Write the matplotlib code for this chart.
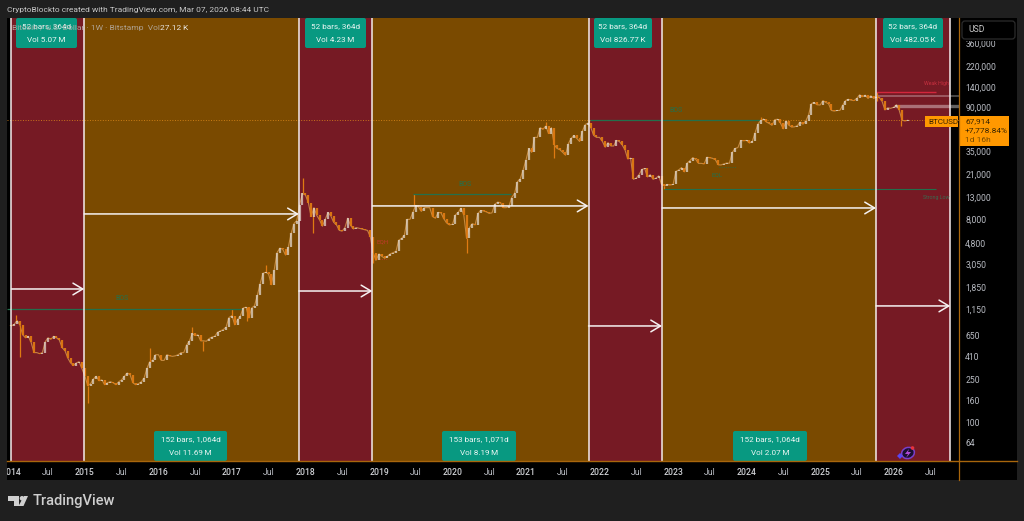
import matplotlib
matplotlib.use('Agg')
import matplotlib.pyplot as plt
from matplotlib.patches import Rectangle, FancyBboxPatch, Polygon, Circle, Ellipse
import numpy as np

plt.rcParams['font.family'] = ['Roboto', 'DejaVu Sans']

# Biweekly closes, one list per year
close_2014 = [800, 830, 900, 820, 660, 620, 640, 560, 450, 450, 440, 450, 570, 620, 600, 640, 620, 590, 500, 470, 400, 360, 340, 360, 370, 320]
close_2015 = [270, 220, 230, 255, 270, 245, 250, 225, 235, 240, 235, 225, 240, 250, 270, 290, 280, 235, 225, 230, 240, 260, 320, 370, 380, 430]
close_2016 = [430, 380, 380, 430, 420, 415, 420, 430, 450, 450, 530, 580, 680, 650, 660, 580, 580, 575, 610, 630, 640, 700, 720, 740, 780, 960]
close_2017 = [1000, 820, 920, 1000, 1180, 1200, 950, 1180, 1240, 1550, 2000, 2500, 2550, 2450, 1950, 2700, 3900, 4300, 4200, 3700, 4400, 5900, 7300, 7800, 10900, 14000]
close_2018 = [13500, 11500, 8500, 10300, 8700, 7900, 6900, 8000, 9300, 8600, 7500, 7100, 6300, 6200, 6700, 8200, 7000, 6500, 6700, 6600, 6500, 6400, 6300, 5500, 3900, 3300]
close_2019 = [3800, 3600, 3450, 3600, 3800, 3900, 4000, 5100, 5300, 5700, 8000, 8000, 9300, 10800, 10500, 9500, 10300, 10300, 10300, 8500, 8200, 9300, 9200, 8100, 7400, 7100]
close_2020 = [7200, 8800, 9300, 10200, 8800, 5300, 6700, 7300, 7100, 9100, 9700, 9600, 9400, 9100, 9200, 11100, 11600, 11500, 10300, 10300, 10600, 12800, 14000, 18000, 19200, 23000]
close_2021 = [29000, 37000, 34000, 47000, 47000, 58000, 56000, 60000, 51000, 58000, 40000, 37000, 36000, 34000, 32000, 41000, 46000, 49000, 46000, 43000, 54000, 62000, 64000, 58000, 49000, 47000]
close_2022 = [47000, 43000, 38000, 42000, 39000, 39000, 44000, 43000, 40000, 36000, 29500, 30000, 19000, 19500, 21000, 23500, 24000, 20000, 21000, 19000, 19500, 20500, 17000, 16500, 17000, 16800]
close_2023 = [17000, 22500, 23300, 24500, 22300, 27000, 28500, 30400, 29300, 26800, 26800, 26500, 30600, 30300, 29900, 29000, 26000, 25900, 26500, 27000, 26900, 34000, 37000, 37700, 44000, 43700]
close_2024 = [44000, 41600, 43000, 52000, 62500, 68000, 69900, 65500, 63500, 61000, 69000, 69500, 64000, 56500, 67000, 61000, 58700, 59000, 60500, 65500, 62500, 67000, 76500, 97500, 99800, 95000]
close_2025 = [94500, 104000, 100000, 97000, 84000, 83000, 84000, 84000, 94000, 104000, 107000, 105000, 104000, 109000, 118000, 113000, 117000, 109000, 115500, 109000, 112000, 111000, 102000, 85000, 89000, 88000]
close_2026 = [90000, 95000, 84000, 68000, 67000, 67914]

# Long wicks
high_years = [2014.06, 2015.88, 2016.46, 2017.0, 2017.46, 2017.96, 2019.48, 2021.27, 2021.85, 2024.2, 2025.77]
high_values = [1014, 502, 780, 1150, 3000, 19666, 13880, 64900, 69000, 73700, 126000]
low_years = [2014.12, 2015.04, 2016.6, 2017.2, 2018.1, 2018.92, 2020.2, 2021.38, 2022.87, 2025.77, 2026.1]
low_values = [410, 152, 470, 890, 5900, 3120, 3850, 30000, 15500, 102000, 59900]

# Time zones and arrows
zone_edges = [2014.0, 2014.99, 2017.91, 2018.91, 2021.85, 2022.85, 2025.76, 2026.77]
zone_colors = ['#761a24', '#7a4a00', '#761a24', '#7a4a00', '#761a24', '#7a4a00', '#761a24']
arrow_prices = [1778, 8990, 1702, 10690, 800, 10230, 1233]

year_labels = ['2014', 'Jul', '2015', 'Jul', '2016', 'Jul', '2017', 'Jul', '2018', 'Jul', '2019', 'Jul', '2020', 'Jul',
               '2021', 'Jul', '2022', 'Jul', '2023', 'Jul', '2024', 'Jul', '2025', 'Jul', '2026', 'Jul']
price_ticks = [360000, 220000, 140000, 90000, 35000, 21000, 13000, 8000, 4800, 3050, 1850, 1150, 650, 410, 250, 160, 100, 64]
last_price = 67914

bg = '#1f1f1f'
tick_col = '#b8bbc2'
fig = plt.figure(figsize=(10.24, 5.21), dpi=100, facecolor=bg)


def pixel_axes(z):
    a = fig.add_axes([0, 0, 1, 1], zorder=z)
    a.set_xlim(0, 1024)
    a.set_ylim(521, 0)
    a.axis('off')
    a.patch.set_visible(False)
    return a


back = pixel_axes(0)
back.add_patch(Rectangle((7, 18), 1010, 462, color='black', lw=0))

# Main chart, x in decimal years, y log price
ax = fig.add_axes([7 / 1024, 1 - 461 / 521, (959 - 7) / 1024, (461 - 18) / 521], zorder=1)
ax.set_facecolor('black')
ax.set_xlim(2013.94, 2026.889)
ax.set_yscale('log')
ax.set_ylim(43.3, 619000)
for s in ax.spines.values():
    s.set_visible(False)

for i in range(len(zone_colors)):
    ax.axvspan(zone_edges[i], zone_edges[i + 1], color=zone_colors[i], lw=0, zorder=1)

# Candles
all_years = []
all_close = []
yearly = [close_2014, close_2015, close_2016, close_2017, close_2018, close_2019, close_2020,
          close_2021, close_2022, close_2023, close_2024, close_2025, close_2026]
for n, vals in enumerate(yearly):
    for j, v in enumerate(vals):
        all_years.append(2014 + n + j * 14 / 365.25)
        all_close.append(v)
all_years = np.array(all_years)
all_close = np.array(all_close)
all_open = np.r_[all_close[0] * 1.02, all_close[:-1]]
up = all_close >= all_open
up_col = '#e6dcd2'
down_col = '#df7a12'

ax.axhline(last_price, color='#e08a1a', lw=0.7, ls=':', alpha=0.8, zorder=2)

ax.plot(all_years, all_close, color='#d89a50', lw=0.8, alpha=0.8, zorder=3)
ax.vlines(all_years[~up], all_open[~up], all_close[~up], color=down_col, lw=1.6, alpha=0.95, zorder=4)
ax.vlines(all_years[up], all_open[up], all_close[up], color=up_col, lw=1.6, alpha=0.72, zorder=4)


def wick_base(x):
    return all_close[np.argmin(np.abs(all_years - x))]


for x, h in zip(high_years, high_values):
    ax.vlines(x, wick_base(x), h, color=down_col, lw=0.9, zorder=3)
for x, l in zip(low_years, low_values):
    ax.vlines(x, l, wick_base(x), color=down_col, lw=0.9, zorder=3)

# Structure lines
green = '#23704c'
ax.hlines(1153, 2013.94, 2017.12, color=green, lw=0.9, zorder=3)
ax.hlines(13800, 2019.46, 2020.80, color=green, lw=0.9, zorder=3)
ax.hlines(68900, 2021.87, 2024.18, color=green, lw=0.9, zorder=3)
ax.hlines(15400, 2022.87, 2026.58, color=green, lw=0.8, zorder=3)
ax.hlines(24800, 2023.62, 2023.85, color=green, lw=0.6, ls=':', zorder=3)
ax.hlines(125300, 2025.76, 2026.58, color='#d3263c', lw=1.0, zorder=3)
ax.hlines(3400, 2018.97, 2019.11, color='#c0392b', lw=0.6, ls=':', zorder=3)
ax.hlines(115000, 2025.79, 2026.889, color='white', lw=1.4, alpha=0.28, zorder=3)
ax.hlines(92600, 2026.02, 2026.889, color='white', lw=2.4, alpha=0.38, zorder=3)

# Zone edges and arrows
for e in zone_edges:
    ax.axvline(e, color='#f4ecec', lw=1.1, zorder=5)
for i, p in enumerate(arrow_prices):
    ax.annotate('', xy=(zone_edges[i + 1], p), xytext=(zone_edges[i], p), zorder=5,
                arrowprops=dict(arrowstyle='->,head_length=0.7,head_width=0.42', color='#f6f2f2', lw=1.1,
                                shrinkA=0, shrinkB=0))

# Axis ticks
tick_pos = [2014 + k * 0.5 for k in range(len(year_labels))]
ax.set_xticks(tick_pos)
ax.set_xticklabels(year_labels, fontsize=6.2, color=tick_col)
for t in ax.get_xticklabels():
    if t.get_text() != 'Jul':
        t.set_color('#d0d2d6')
        t.set_fontweight('medium')
ax.tick_params(axis='x', length=0, pad=5)
ax.yaxis.tick_right()
ax.set_yticks(price_ticks)
ax.set_yticklabels(['{:,}'.format(v) for v in price_ticks], fontsize=6.2, color=tick_col)
ax.minorticks_off()
ax.tick_params(axis='y', length=0, pad=4.5)

# Overlay in pixels
ov = pixel_axes(5)
ov.add_patch(Rectangle((0, 0), 7, 521, color=bg, lw=0))
ov.plot([7, 1017], [461, 461], color='#a8660c', lw=1.0)
ov.plot([959, 959], [18, 480], color='#a8660c', lw=0.9)

# Top header
ov.text(7, 10, 'CryptoBlockto created with TradingView.com, Mar 07, 2026 08:44 UTC', fontsize=6.0,
        color='#c9c9c9', va='center')


def stat_box(x0, x1, y0, y1, line1, line2):
    ov.add_patch(FancyBboxPatch((x0 + 1.5, y0 + 1.5), x1 - x0 - 3, y1 - y0 - 3, boxstyle='round,pad=1.5,rounding_size=2',
                                fc='#089981', ec='none'))
    mid = (x0 + x1) / 2
    ov.text(mid, y0 + 8, line1, ha='center', va='center', color='#eaf6f3', fontsize=5.9)
    ov.text(mid, y0 + 22, line2, ha='center', va='center', color='#eaf6f3', fontsize=5.9)


stat_box(16, 77, 18, 48, '52 bars, 364d', 'Vol 5.07\u2009M')
stat_box(305, 366, 18, 48, '52 bars, 364d', 'Vol 4.23\u2009M')
stat_box(594, 652, 18, 48, '52 bars, 364d', 'Vol 826.77\u2009K')
stat_box(883, 943, 18, 48, '52 bars, 364d', 'Vol 482.05\u2009K')
stat_box(154, 227, 431, 461, '152 bars, 1,064d', 'Vol 11.69\u2009M')
stat_box(442, 516, 431, 461, '153 bars, 1,071d', 'Vol 8.19\u2009M')
stat_box(733, 807, 431, 461, '152 bars, 1,064d', 'Vol 2.07\u2009M')

# Legend line over the first box
ov.text(12, 28, 'Bitcoin / U.S. Dollar \u00b7 1W \u00b7 Bitstamp  Vol', fontsize=6.0, color='#b9b3ad', va='center', alpha=0.85)
ov.text(160, 28, '27.12\u2009K', fontsize=6.0, color='#e8e4df', va='center')

# Small labels
ov.text(122, 298, 'BOS', fontsize=5, color=green, ha='center', va='center')
ov.text(465, 184, 'BOS', fontsize=5, color=green, ha='center', va='center')
ov.text(676, 110, 'BOS', fontsize=5, color=green, ha='center', va='center')
ov.text(717, 175, 'EQL', fontsize=4.5, color=green, ha='center', va='center')
ov.text(383, 242, 'EQH', fontsize=4.5, color='#c0392b', ha='center', va='center')
ov.text(936, 84, 'Weak High', fontsize=3.8, color='#c8303f', ha='center', va='center')
ov.text(936, 197, 'Strong Low', fontsize=3.8, color='#3a6a50', ha='center', va='center')

# USD button
ov.add_patch(Rectangle((962, 36), 54, 4.5, color='black', lw=0))
ov.add_patch(FancyBboxPatch((964, 23), 49, 14, boxstyle='round,pad=2,rounding_size=3', fc='black', ec='#2c2c2c', lw=0.9))
ov.text(968, 30, 'USD', fontsize=6.2, color='#c8c8c8', va='center')

# Last price tag
ov.add_patch(Rectangle((959, 116), 50, 30, color='#ff9800', lw=0))
ov.add_patch(Rectangle((925, 116), 33, 11, color='#ff9800', lw=0))
ov.text(928, 121.5, 'BTCUSD', fontsize=5.9, color='#3a2500', va='center')
ov.text(965, 121, '67,914', fontsize=6.0, color='#3a2500', va='center')
ov.text(965, 130.5, '+7,778.84%', fontsize=6.0, color='#3a2500', va='center')
ov.text(965, 140, '1d 16h', fontsize=6.0, color='#7a4c00', va='center')

# Purple icon near the bottom
ov.add_patch(Ellipse((908, 453), 13, 11, angle=-20, fc='#1a1030', ec='#7a3fc8', lw=1.1))
ov.add_patch(Polygon([(900, 453), (903, 456), (900, 459), (897, 456)], color='#5b45f0', lw=0))
ov.add_patch(Circle((912.5, 448), 1.8, color='#e8323c', lw=0))
ov.add_patch(Polygon([(909, 449), (905, 454), (908, 454), (906, 458), (911, 452), (908, 452)], color='#b04ad8', lw=0))

# TradingView logo
logo_col = '#cfcfcf'
ov.add_patch(Polygon([(8, 496), (19, 496), (19, 506), (14, 506), (14, 501), (8, 501)], color=logo_col, lw=0))
ov.add_patch(Circle((22, 498.3), 2.3, color=logo_col, lw=0))
ov.add_patch(Polygon([(24, 496), (28, 496), (23.5, 506), (18.5, 506)], color=logo_col, lw=0))
ov.text(33, 501, 'TradingView', fontsize=10.5, color=logo_col, va='center', fontweight='medium')

fig.savefig('out.png', dpi=100, facecolor=bg)
plt.close(fig)
